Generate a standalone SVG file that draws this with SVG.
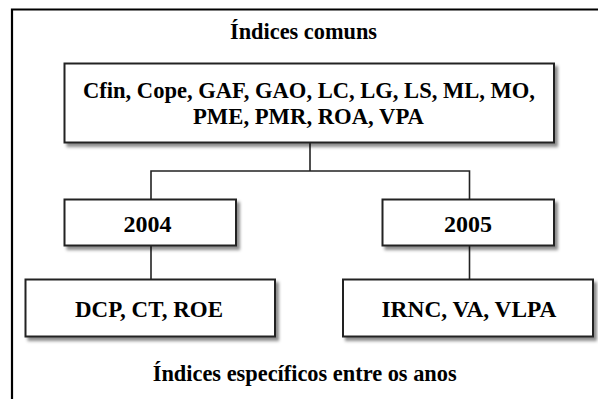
<svg xmlns="http://www.w3.org/2000/svg" width="598" height="399" viewBox="0 0 598 399">
<style>
  .box { fill: #ffffff; stroke: #222222; stroke-width: 2; filter: url(#sh); }
  .t { font-family: 'Liberation Serif', 'Times New Roman', serif; font-weight: 700; font-size: 22.4px; fill: #000000; text-anchor: middle; }
  .conn { fill: none; stroke: #222222; stroke-width: 1.6; }
  .frame { fill: none; stroke: #000000; stroke-width: 2.2; }
</style>
<defs>
  <filter id="sh" x="-10%" y="-20%" width="130%" height="150%">
    <feDropShadow dx="3" dy="3.5" stdDeviation="1.6" flood-color="#000000" flood-opacity="0.45"/>
  </filter>
</defs>
<rect x="0" y="0" width="598" height="399" fill="#ffffff"/>
<g id="frame">
  <polyline class="frame" points="12,400 12,9.5 599,9.5"/>
</g>
<g id="title-top">
  <text class="t" x="303.5" y="39" textLength="147" lengthAdjust="spacingAndGlyphs">Índices comuns</text>
</g>
<g id="connectors">
  <polyline class="conn" points="310,143 310,171"/>
  <polyline class="conn" points="151,200 151,171 469.5,171 469.5,200"/>
  <polyline class="conn" points="151,246 151,280"/>
  <polyline class="conn" points="469.5,246 469.5,280"/>
</g>
<g id="node-comuns">
  <rect class="box" x="64.5" y="63.5" width="489.5" height="79"/>
  <text class="t" x="309" y="98" textLength="452" lengthAdjust="spacingAndGlyphs">Cfin, Cope, GAF, GAO, LC, LG, LS, ML, MO,</text>
  <text class="t" x="308.5" y="124" textLength="231" lengthAdjust="spacingAndGlyphs">PME, PMR, ROA, VPA</text>
</g>
<g id="node-2004">
  <rect class="box" x="64.5" y="199.5" width="171.5" height="46"/>
  <text class="t" x="147.5" y="231.5" textLength="48" lengthAdjust="spacingAndGlyphs">2004</text>
</g>
<g id="node-2005">
  <rect class="box" x="382.5" y="199.5" width="171.5" height="46"/>
  <text class="t" x="468" y="231.5" textLength="48" lengthAdjust="spacingAndGlyphs">2005</text>
</g>
<g id="node-2004-list">
  <rect class="box" x="25.5" y="279.5" width="249.5" height="57"/>
  <text class="t" x="149" y="316.5" textLength="148" lengthAdjust="spacingAndGlyphs">DCP, CT, ROE</text>
</g>
<g id="node-2005-list">
  <rect class="box" x="343" y="279.5" width="250" height="57"/>
  <text class="t" x="469" y="316.5" textLength="175" lengthAdjust="spacingAndGlyphs">IRNC, VA, VLPA</text>
</g>
<g id="title-bottom">
  <text class="t" x="304.7" y="381" textLength="304" lengthAdjust="spacingAndGlyphs">Índices específicos entre os anos</text>
</g>
</svg>
